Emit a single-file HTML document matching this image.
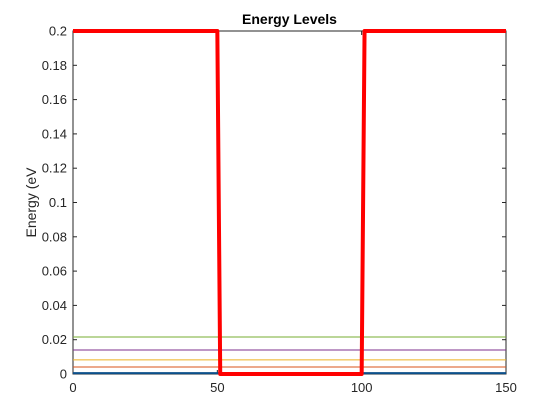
<!DOCTYPE html>
<html><head><meta charset="utf-8"><style>
body{margin:0;background:#fff;}
svg{display:block;font-family:"Liberation Sans",Arial,sans-serif;}
</style></head><body>
<svg id="chart" width="560" height="420">
<rect x="0" y="0" width="560" height="420" fill="#fff"/>
</svg>
<script>
const xTicks=[0,50,100,150];
const yTicks=[0,0.02,0.04,0.06,0.08,0.1,0.12,0.14,0.16,0.18,0.2];
const yTickLabels=["0","0.02","0.04","0.06","0.08","0.1","0.12","0.14","0.16","0.18","0.2"];
const levelValues=[0.0005,0.0041,0.0082,0.014,0.0216];
const levelColors=["#0b4f8a","#d95319","#edb120","#7e2f8e","#77ac30"];
const potentialX=[0,50,51,100,101,150];
const potentialY=[0.2,0.2,0,0,0.2,0.2];
const L=73,R=506,T=31,B=374;
const sx=v=>L+(v-0)/(150-0)*(R-L);
const sy=v=>B-(v-0)/(0.2-0)*(B-T);
const svg=document.getElementById('chart');
const NS='http://www.w3.org/2000/svg';
function mk(tag,attrs,parent){const e=document.createElementNS(NS,tag);for(const k in attrs)e.setAttribute(k,attrs[k]);(parent||svg).appendChild(e);return e;}
const box=mk('rect',{x:L,y:T,width:R-L,height:B-T,fill:'none',stroke:'#262626','stroke-width':1});


xTicks.forEach(v=>{
 const x=sx(v);
 const t=mk('line',{x1:x,x2:x,y1:B,y2:B-4,stroke:'#262626'});
 
 
 mk('line',{x1:x,x2:x,y1:T,y2:T+4,stroke:'#262626'});
 const lb=mk('text',{x:x,y:B+18,'text-anchor':'middle','font-size':13,fill:'#262626'});
 lb.textContent=String(v);
 
 
});
yTicks.forEach((v,i)=>{
 const y=sy(v);
 const t=mk('line',{x1:L,x2:L+4,y1:y,y2:y,stroke:'#262626'});
 
 
 mk('line',{x1:R,x2:R-4,y1:y,y2:y,stroke:'#262626'});
 const lb=mk('text',{x:L-6,y:y+4.5,'text-anchor':'end','font-size':13,fill:'#262626'});
 lb.textContent=yTickLabels[i];
 
 
});
levelValues.forEach((v,i)=>{
 const y=sy(v);
 const l=mk('line',{x1:L,x2:R,y1:y,y2:y,stroke:levelColors[i],'stroke-width':i===0?2:1});
 
 
});
const pts=potentialX.map((x,i)=>sx(x)+','+sy(potentialY[i])).join(' ');
const p=mk('polyline',{points:pts,fill:'none',stroke:'#ff0000','stroke-width':4,'stroke-linejoin':'round'});


const ti=mk('text',{x:(L+R)/2,y:24,'text-anchor':'middle','font-size':14,'font-weight':'bold',fill:'#000'});
ti.textContent='Energy Levels';


const yl=mk('text',{x:0,y:0,'text-anchor':'middle','font-size':14,fill:'#262626',transform:'translate(36,'+((T+B)/2)+') rotate(-90)'});
yl.textContent='Energy (eV';


</script>
</body></html>
